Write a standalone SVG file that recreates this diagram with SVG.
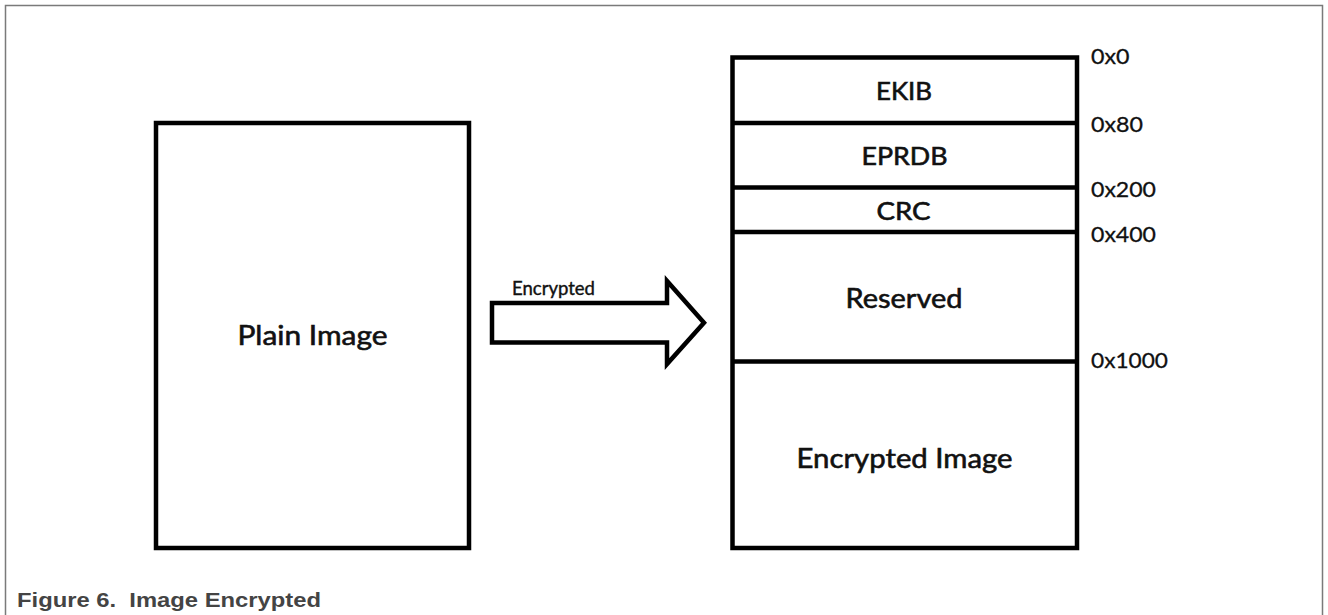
<svg xmlns="http://www.w3.org/2000/svg" width="1328" height="615" viewBox="0 0 1328 615">
<style>
.box{fill:#fff;stroke:#000;stroke-width:4.5}
.div{stroke:#000;stroke-width:4.5}
.lbl{font-family:Lato,"Noto Sans",sans-serif;font-weight:normal;fill:#111;stroke:#111;stroke-width:0.6;text-anchor:middle}
.off{font-family:Lato,"Noto Sans",sans-serif;font-size:22px;fill:#111;stroke:#111;stroke-width:0.3}
.frame{stroke:#7a7a7a;stroke-width:1.5;fill:none}
</style>
<rect width="1328" height="615" fill="#fff"/>
<path class="frame" d="M5.5,615 V5.5 H1322.5 V615"/>
<g id="plain">
<rect class="box" x="156" y="123" width="313" height="425"/>
<text class="lbl" x="312.5" y="345" font-size="27" textLength="150" lengthAdjust="spacingAndGlyphs">Plain Image</text>
</g>
<g id="connectors">
<path d="M492,303 H667 V281 L704,322.7 L667,364 V342.5 H492 Z" fill="#fff" stroke="#000" stroke-width="4.5" stroke-linejoin="miter"/>
<text x="512" y="295" font-family="Lato,'Noto Sans',sans-serif" font-size="19" fill="#111" stroke="#111" stroke-width="0.4" textLength="83" lengthAdjust="spacingAndGlyphs">Encrypted</text>
</g>
<g id="layout">
<rect class="box" x="732.5" y="57.5" width="344.5" height="490.5"/>
<line class="div" x1="732.5" y1="123" x2="1077" y2="123"/>
<line class="div" x1="732.5" y1="187.5" x2="1077" y2="187.5" stroke-width="5.5"/>
<line class="div" x1="732.5" y1="232" x2="1077" y2="232"/>
<line class="div" x1="732.5" y1="361.5" x2="1077" y2="361.5"/>
</g>
<g id="ekib"><text class="lbl" x="904" y="100" font-size="25" textLength="56" lengthAdjust="spacingAndGlyphs">EKIB</text></g>
<g id="eprdb"><text class="lbl" x="904.5" y="165" font-size="25" textLength="86" lengthAdjust="spacingAndGlyphs">EPRDB</text></g>
<g id="crc"><text class="lbl" x="903.5" y="220" font-size="25" textLength="54" lengthAdjust="spacingAndGlyphs">CRC</text></g>
<g id="reserved"><text class="lbl" x="904" y="308" font-size="27" textLength="117" lengthAdjust="spacingAndGlyphs">Reserved</text></g>
<g id="encimg"><text class="lbl" x="904.5" y="468" font-size="27" textLength="216" lengthAdjust="spacingAndGlyphs">Encrypted Image</text></g>
<g id="offsets">
<text class="off" x="1091" y="64" textLength="38.5" lengthAdjust="spacingAndGlyphs">0x0</text>
<text class="off" x="1091" y="131.5" textLength="52" lengthAdjust="spacingAndGlyphs">0x80</text>
<text class="off" x="1091" y="197" textLength="65" lengthAdjust="spacingAndGlyphs">0x200</text>
<text class="off" x="1091" y="242" textLength="65" lengthAdjust="spacingAndGlyphs">0x400</text>
<text class="off" x="1091" y="368" textLength="77" lengthAdjust="spacingAndGlyphs">0x1000</text>
</g>
<text x="17" y="607" xml:space="preserve" font-family="'Liberation Sans',Arial,sans-serif" font-size="20" font-weight="bold" fill="#444" textLength="304" lengthAdjust="spacingAndGlyphs">Figure 6.  Image Encrypted</text>
</svg>
